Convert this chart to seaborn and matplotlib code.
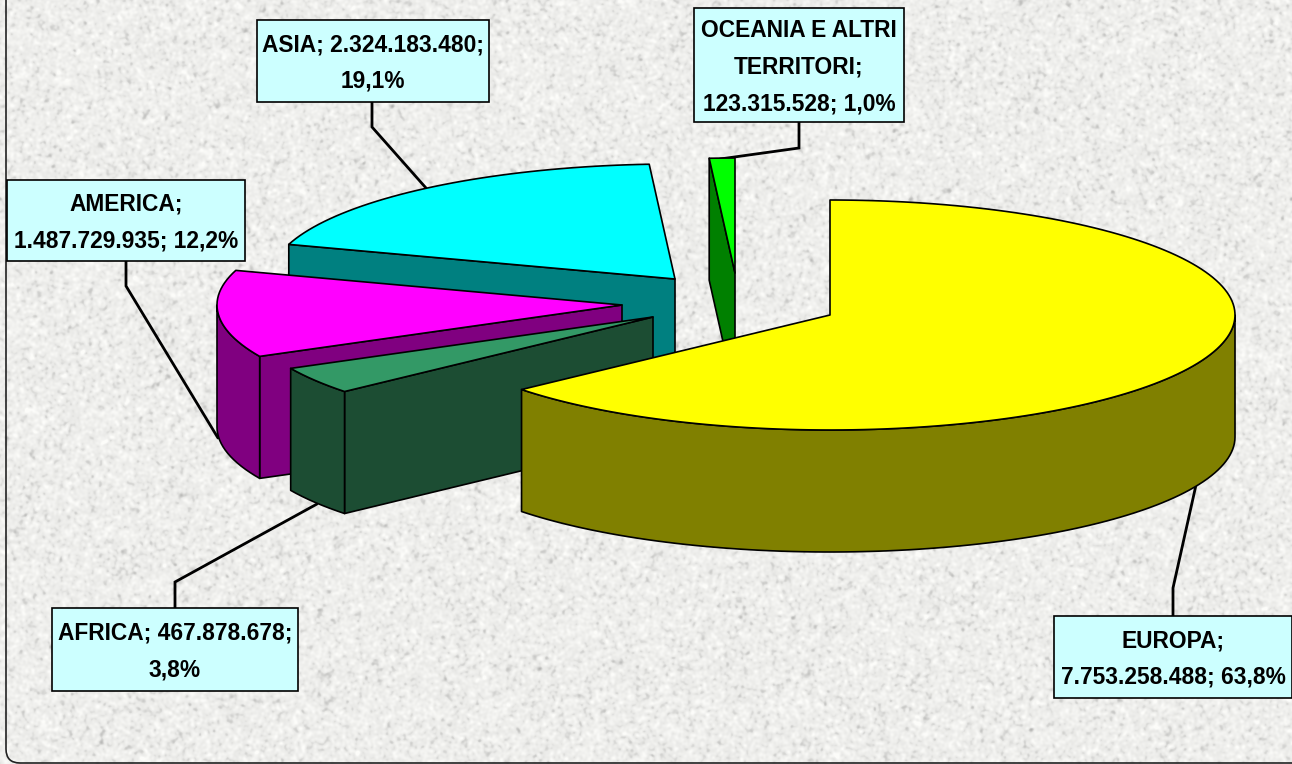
import numpy as np
import matplotlib
matplotlib.use("Agg")
import matplotlib.pyplot as plt
from matplotlib.patches import FancyBboxPatch, Polygon, Rectangle
import seaborn as sns

# Data
continents = ["EUROPA", "AFRICA", "AMERICA", "ASIA", "OCEANIA E ALTRI\nTERRITORI"]
values = [7753258488, 467878678, 1487729935, 2324183480, 123315528]
percent_labels = ["63,8%", "3,8%", "12,2%", "19,1%", "1,0%"]
value_labels = ["7.753.258.488", "467.878.678", "1.487.729.935", "2.324.183.480", "123.315.528"]

# Styling
top_colors = ["#ffff00", "#339966", "#ff00ff", "#00ffff", "#00ff00"]
side_colors = ["#808000", "#1c4d33", "#800080", "#008080", "#008000"]
explode_px = [(0, 0), (-177, 2), (-208, -10), (-155, -36), (-95, -42)]
draw_order = [3, 4, 2, 1, 0]  # back to front

# label text layout, box (x0, y0, x1, y1) and leader line for each slice
label_text = [
    "EUROPA;\n7.753.258.488; 63,8%",
    "AFRICA; 467.878.678;\n3,8%",
    "AMERICA;\n1.487.729.935; 12,2%",
    "ASIA; 2.324.183.480;\n19,1%",
    "OCEANIA E ALTRI\nTERRITORI;\n123.315.528; 1,0%",
]
label_boxes = [
    (1054, 616, 1292, 698),
    (52, 608, 298, 691),
    (7, 180, 245, 261),
    (257, 20, 489, 102),
    (694, 8, 904, 122),
]
leaders = [
    [(1173, 616), (1173, 588), (1196, 485)],
    [(175, 608), (175, 582), (317, 504)],
    [(126, 261), (126, 286), (218, 438)],
    [(372, 102), (372, 127), (426, 188)],
    [(799, 122), (799, 148), (720, 159)],
]

CX, CY = 830, 315
RX, RY = 405, 115
DEPTH = 122

sns.set_theme(style="white")
plt.rcParams["font.family"] = ["Liberation Sans", "DejaVu Sans"]

fig, ax = plt.subplots(figsize=(12.92, 7.64), dpi=100)
fig.subplots_adjust(0, 0, 1, 1)
ax.set_xlim(0, 1292)
ax.set_ylim(764, 0)
ax.set_axis_off()

# stone background texture (decoration only, not chart data)
rng = np.random.default_rng(7)
noise = rng.normal(size=(764, 1292))
fy = np.fft.fftfreq(764)[:, None]
fx = np.fft.fftfreq(1292)[None, :]
fine = np.fft.ifft2(np.fft.fft2(noise) * np.exp(-(fx**2 + fy**2) * 35)).real
fine = fine / fine.std()
specks = np.clip(-fine - 1.0, 0, None)  # a few darker flecks
texture = np.clip(238 + 5 * fine - 9 * specks, 175, 252) / 255
ax.imshow(np.dstack([texture, texture, texture * 0.99]), extent=(0, 1292, 764, 0),
          aspect="auto", zorder=0, interpolation="bilinear")

# rounded frame, only the left side and the corner fall inside the picture
ax.add_patch(FancyBboxPatch((6, -40), 1340, 803, boxstyle="round,pad=0,rounding_size=14",
                            fc="none", ec="#222222", lw=1.2, zorder=1))


def rim(theta, ox, oy, drop=0):
    return (CX + ox + RX * np.sin(theta), CY + oy - RY * np.cos(theta) + drop)


def arc(t0, t1, ox, oy, drop=0):
    ts = np.linspace(t0, t1, max(2, int(np.degrees(t1 - t0) / 1.5)))
    xs, ys = rim(ts, ox, oy, drop)
    return np.column_stack([xs, ys])


# slice angles come from the values, clockwise from 12 o'clock
shares = np.array(values) / np.sum(values)
edges = np.concatenate([[0], np.cumsum(shares)]) * 2 * np.pi

z = 5
for i in draw_order:
    t0, t1 = edges[i], edges[i + 1]
    ox, oy = explode_px[i]
    tip = (CX + ox, CY + oy)
    tip_low = (tip[0], tip[1] + DEPTH)

    # cut faces turned to the viewer
    if np.sin(t0) < -1e-6:
        p = rim(t0, ox, oy)
        ax.add_patch(Polygon([tip, p, (p[0], p[1] + DEPTH), tip_low], fc=side_colors[i],
                             ec="black", lw=1.2, joinstyle="round", zorder=z))
    if np.sin(t1) > 1e-6:
        p = rim(t1, ox, oy)
        ax.add_patch(Polygon([tip, p, (p[0], p[1] + DEPTH), tip_low], fc=side_colors[i],
                             ec="black", lw=1.2, joinstyle="round", zorder=z))

    # outer wall, front half of the rim only
    a0, a1 = max(t0, np.pi / 2), min(t1, 3 * np.pi / 2)
    if a1 > a0:
        upper = arc(a0, a1, ox, oy)
        lower = arc(a0, a1, ox, oy, DEPTH)[::-1]
        ax.add_patch(Polygon(np.vstack([upper, lower]), fc=side_colors[i],
                             ec="black", lw=1.2, joinstyle="round", zorder=z))

    # top face
    ax.add_patch(Polygon(np.vstack([[tip], arc(t0, t1, ox, oy)]), fc=top_colors[i],
                         ec="black", lw=1.2, joinstyle="round", zorder=z))
    z += 1

# leader lines and label boxes
for i, pts in enumerate(leaders):
    xs, ys = zip(*pts)
    ax.plot(xs, ys, color="black", lw=2.0, solid_joinstyle="miter", zorder=3)
    x0, y0, x1, y1 = label_boxes[i]
    ax.add_patch(Rectangle((x0, y0), x1 - x0, y1 - y0, fc="#ccffff", ec="black", lw=1.2, zorder=12))
    ax.text((x0 + x1) / 2, (y0 + y1) / 2 + 2, label_text[i], ha="center", va="center",
            fontsize=16.4, fontweight="bold", color="black", linespacing=1.77, zorder=13)

fig.savefig("out.png", dpi=100)
